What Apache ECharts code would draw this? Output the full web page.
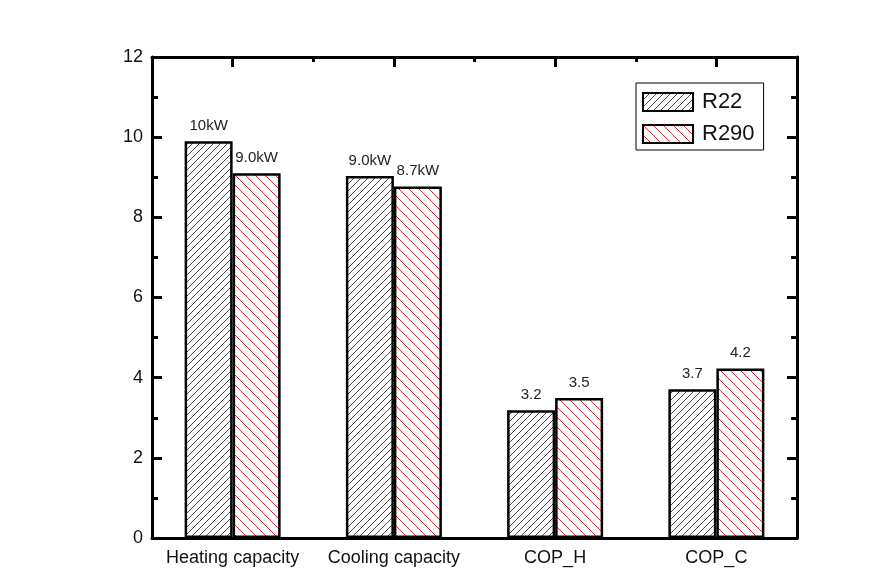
<!DOCTYPE html>
<html>
<head>
<meta charset="utf-8">
<script src="https://cdn.jsdelivr.net/npm/echarts@6/dist/echarts.min.js"></script>
<style>
html,body{margin:0;padding:0;background:#fff;}
#chart{width:879px;height:575px;}
</style>
</head>
<body>
<div id="chart"></div>
<script>
const categories = ['Heating capacity', 'Cooling capacity', 'COP_H', 'COP_C'];
const seriesNames = ['R22', 'R290'];
const r22Values = [9.9, 9.03, 3.19, 3.71];
const r290Values = [9.1, 8.77, 3.49, 4.23];
const r22Labels = ['10kW', '9.0kW', '3.2', '3.7'];
const r290Labels = ['9.0kW', '8.7kW', '3.5', '4.2'];
const yTicks = [0, 2, 4, 6, 8, 10, 12];

function hatch(size, color, dir, lw) {
  const c = document.createElement('canvas');
  c.width = size; c.height = size;
  const g = c.getContext('2d');
  g.fillStyle = '#fff';
  g.fillRect(0, 0, size, size);
  g.strokeStyle = color;
  g.lineWidth = lw;
  g.beginPath();
  if (dir === '/') {
    for (let k = -1; k <= 1; k++) {
      g.moveTo(k * size - 1, size + 1);
      g.lineTo(k * size + size + 1, -1);
    }
  } else {
    for (let k = -1; k <= 1; k++) {
      g.moveTo(k * size - 1, -1);
      g.lineTo(k * size + size + 1, size + 1);
    }
  }
  g.stroke();
  return c;
}

const fontFam = 'Liberation Sans, Arial, sans-serif';
const r22Fill = { image: hatch(7, '#333', '/', 0.9), repeat: 'repeat' };
const r290Fill = { image: hatch(10, '#e0141c', '\\', 0.9), repeat: 'repeat' };

function labelFor(arr) {
  return {
    show: true, position: 'top', distance: 8,
    fontFamily: fontFam, fontSize: 15, color: '#222',
    formatter: p => arr[p.dataIndex]
  };
}

const chart = echarts.init(document.getElementById('chart'));
chart.setOption({
  animation: false,
  backgroundColor: '#fff',
  grid: { left: 152, right: 82, top: 57, bottom: 37, containLabel: false },
  legend: {
    data: seriesNames,
    orient: 'vertical',
    left: 636, top: 83,
    icon: 'rect',
    itemWidth: 50, itemHeight: 18, itemGap: 10,
    padding: [8, 9, 5, 6],
    borderColor: '#000', borderWidth: 1,
    textStyle: { fontFamily: fontFam, fontSize: 22, color: '#111', padding: [0, 0, 0, 4] }
  },
  xAxis: [
    {
      type: 'category', data: categories, position: 'bottom',
      axisLine: { onZero: false, lineStyle: { color: '#000', width: 3 } },
      axisTick: { show: false },
      axisLabel: { interval: 0, fontFamily: fontFam, fontSize: 18, color: '#111', margin: 11 },
      splitLine: { show: false }
    },
    {
      type: 'value', position: 'top', min: 0, max: categories.length, interval: 1,
      axisLine: { show: true, onZero: false, lineStyle: { color: '#000', width: 3 } },
      axisTick: { show: true, inside: true, length: 5, lineStyle: { color: '#000', width: 3 } },
      minorTick: { show: true, splitNumber: 2, length: 10, lineStyle: { color: '#000', width: 3 } },
      axisLabel: { show: false },
      splitLine: { show: false },
      minorSplitLine: { show: false }
    }
  ],
  yAxis: [
    {
      type: 'value', min: yTicks[0], max: yTicks[yTicks.length - 1], interval: 2,
      position: 'left',
      axisLine: { show: true, onZero: false, lineStyle: { color: '#000', width: 3 } },
      axisTick: { show: true, inside: true, length: 10, lineStyle: { color: '#000', width: 3 } },
      minorTick: { show: true, splitNumber: 2, length: 6, lineStyle: { color: '#000', width: 3 } },
      axisLabel: { fontFamily: fontFam, fontSize: 18, color: '#111', margin: 9 },
      splitLine: { show: false }
    },
    {
      type: 'value', min: yTicks[0], max: yTicks[yTicks.length - 1], interval: 2,
      position: 'right',
      axisLine: { show: true, onZero: false, lineStyle: { color: '#000', width: 3 } },
      axisTick: { show: true, inside: true, length: 10, lineStyle: { color: '#000', width: 3 } },
      minorTick: { show: true, splitNumber: 2, length: 6, lineStyle: { color: '#000', width: 3 } },
      axisLabel: { show: false },
      splitLine: { show: false }
    }
  ],
  series: [
    {
      name: seriesNames[0], type: 'bar', data: r22Values, xAxisIndex: 0, yAxisIndex: 0,
      barWidth: 48, barGap: '0%',
      itemStyle: { color: r22Fill, borderColor: '#000', borderWidth: 2.5 },
      label: labelFor(r22Labels)
    },
    {
      name: seriesNames[1], type: 'bar', data: r290Values, xAxisIndex: 0, yAxisIndex: 0,
      barWidth: 48, barGap: '0%',
      itemStyle: { color: r290Fill, borderColor: '#000', borderWidth: 2.5 },
      label: labelFor(r290Labels)
    }
  ]
});
</script>
</body>
</html>
